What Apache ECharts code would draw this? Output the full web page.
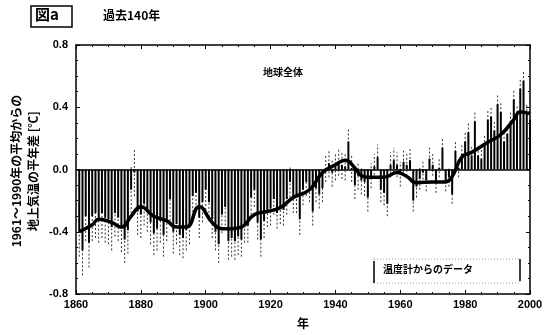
<!DOCTYPE html>
<html>
<head>
<meta charset="utf-8">
<script src="https://cdn.jsdelivr.net/npm/echarts@6/dist/echarts.min.js"></script>
<style>
  html, body { margin: 0; padding: 0; background: #fff; }
  #chart { width: 546px; height: 335px; }
</style>
</head>
<body>
<div id="chart"></div>
<script>
// 年ごとの平年差 (1861-2000)
var startYear = 1861;
var anomaly = [
  -0.40, -0.52, -0.30, -0.47, -0.30, -0.28, -0.31, -0.28, -0.31, -0.32,
  -0.37, -0.28, -0.31, -0.38, -0.45, -0.39, -0.13, -0.02, -0.27, -0.29,
  -0.22, -0.26, -0.34, -0.41, -0.38, -0.33, -0.42, -0.32, -0.19, -0.40,
  -0.35, -0.42, -0.44, -0.39, -0.35, -0.17, -0.15, -0.31, -0.21, -0.13,
  -0.21, -0.32, -0.40, -0.48, -0.29, -0.24, -0.46, -0.44, -0.46, -0.43,
  -0.45, -0.36, -0.36, -0.18, -0.13, -0.34, -0.45, -0.33, -0.26, -0.25,
  -0.19, -0.28, -0.25, -0.26, -0.19, -0.08, -0.18, -0.18, -0.32, -0.13,
  -0.08, -0.12, -0.27, -0.12, -0.16, -0.12, 0.01, 0.04, -0.02, 0.02,
  0.05, 0.03, 0.02, 0.18, 0.01, -0.10, -0.04, -0.07, -0.08, -0.18,
  -0.04, 0.02, 0.08, -0.13, -0.15, -0.22, 0.03, 0.06, 0.03, -0.03,
  0.05, 0.03, 0.06, -0.20, -0.11, -0.06, -0.02, -0.07, 0.07, 0.03,
  -0.09, 0.01, 0.14, -0.08, -0.05, -0.16, 0.12, 0.01, 0.10, 0.18,
  0.24, 0.09, 0.31, 0.09, 0.07, 0.16, 0.32, 0.34, 0.25, 0.42,
  0.37, 0.18, 0.23, 0.31, 0.45, 0.35, 0.52, 0.57, 0.36, 0.32
];

// 誤差幅 (10年ごと, 1861-2000)
var uncertainty = [0.16, 0.15, 0.14, 0.13, 0.12, 0.11, 0.10, 0.09, 0.09, 0.08, 0.07, 0.06, 0.06, 0.06];

// 平滑曲線
var smoothYears = [1861, 1865, 1867, 1871, 1874, 1877, 1880, 1884, 1888, 1891, 1894, 1898,
  1902, 1905, 1908, 1911, 1915, 1919, 1923, 1927, 1932, 1936, 1940, 1943, 1946, 1948,
  1950, 1955, 1959, 1962, 1965, 1970, 1974, 1976, 1979, 1982, 1987, 1991, 1995, 1997, 2000];
var smoothValues = [-0.40, -0.355, -0.32, -0.34, -0.37, -0.30, -0.24, -0.30, -0.33, -0.37, -0.37, -0.24,
  -0.34, -0.38, -0.38, -0.37, -0.29, -0.27, -0.245, -0.18, -0.13, -0.02, 0.03, 0.06, 0.01, -0.04,
  -0.05, -0.05, -0.02, -0.045, -0.085, -0.08, -0.08, -0.045, 0.08, 0.11, 0.175, 0.225, 0.32, 0.37, 0.36];

var yTicks = ['-0.8', '-0.4', '0.0', '0.4', '0.8'];

var font = '"Liberation Sans", Arial, sans-serif';
var jpFont = '"Noto Sans CJK JP", sans-serif';

var barData = anomaly.map(function (v, i) { return [startYear + i, v]; });
var errData = anomaly.map(function (v, i) {
  var e = uncertainty[Math.floor(i / 10)];
  return [startYear + i, v - e, v + e];
});
var lineData = smoothYears.map(function (y, i) { return [y, smoothValues[i]]; });

var chart = echarts.init(document.getElementById('chart'));
chart.setOption({
  backgroundColor: '#fff',
  animation: false,
  grid: { left: 76, right: 16, top: 45, bottom: 41 },
  xAxis: [{
    type: 'value', min: 1860, max: 2000, interval: 20,
    name: '年', nameLocation: 'middle', nameGap: 23,
    nameTextStyle: { fontFamily: jpFont, fontWeight: 'bold', fontSize: 12, color: '#000' },
    axisLine: { onZero: false, lineStyle: { color: '#000', width: 1.5 } },
    axisTick: { inside: true, length: 4, lineStyle: { color: '#000' } },
    minorTick: { show: true, splitNumber: 4, length: 2, lineStyle: { color: '#000' } },
    axisLabel: { color: '#000', fontFamily: font, fontWeight: 'bold', fontSize: 11, margin: 5,
      formatter: function (v) { return String(v); } },
    splitLine: { show: false }
  }, {
    type: 'value', min: 1860, max: 2000, interval: 20, position: 'top',
    axisLine: { onZero: false, lineStyle: { color: '#000', width: 1.5 } },
    axisTick: { inside: true, length: 4, lineStyle: { color: '#000' } },
    minorTick: { show: true, splitNumber: 4, length: 2, lineStyle: { color: '#000' } },
    axisLabel: { show: false }, splitLine: { show: false }
  }],
  yAxis: [{
    type: 'value', min: -0.8, max: 0.8, interval: 0.4,
    axisLine: { show: true, lineStyle: { color: '#000', width: 1.5 } },
    axisTick: { inside: true, length: 4, lineStyle: { color: '#000' } },
    minorTick: { show: true, splitNumber: 4, length: 2, lineStyle: { color: '#000' } },
    axisLabel: {
      color: '#000', fontFamily: font, fontWeight: 'bold', fontSize: 11, margin: 8,
      formatter: function (v) { return yTicks[Math.round((v + 0.8) / 0.4)]; }
    },
    splitLine: { show: false }
  }, {
    type: 'value', min: -0.8, max: 0.8, interval: 0.4, position: 'right',
    axisLine: { show: true, lineStyle: { color: '#000', width: 1.5 } },
    axisTick: { inside: true, length: 4, lineStyle: { color: '#000' } },
    minorTick: { show: true, splitNumber: 4, length: 2, lineStyle: { color: '#000' } },
    axisLabel: { show: false }, splitLine: { show: false }
  }],
  series: [{
    type: 'custom',
    data: errData,
    renderItem: function (params, api) {
      var x = api.coord([api.value(0), 0])[0];
      var y1 = api.coord([0, api.value(1)])[1];
      var y2 = api.coord([0, api.value(2)])[1];
      return {
        type: 'line',
        shape: { x1: x, y1: y1, x2: x, y2: y2 },
        style: { stroke: '#333', lineWidth: 1, lineDash: [2, 2] }
      };
    },
    z: 1
  }, {
    type: 'bar',
    data: barData,
    barWidth: 2,
    itemStyle: { color: '#000' },
    markLine: {
      symbol: 'none', silent: true, label: { show: false },
      lineStyle: { color: '#000', width: 1.5, type: 'solid' },
      data: [{ yAxis: 0 }]
    },
    z: 2
  }, {
    type: 'line',
    data: lineData,
    smooth: 0.5,
    symbol: 'none',
    lineStyle: { color: '#000', width: 3.5 },
    z: 5
  }],
  graphic: [
    { type: 'rect', shape: { x: 31, y: 6, width: 41, height: 21 },
      style: { fill: 'none', stroke: '#000', lineWidth: 1.5 } },
    { type: 'text', x: 35, y: 7,
      style: { text: '図a', font: 'bold 15px ' + jpFont, fill: '#000' } },
    { type: 'text', x: 103, y: 9,
      style: { text: '過去140年', font: 'bold 12px ' + jpFont, fill: '#000' } },
    { type: 'text', x: 263, y: 67,
      style: { text: '地球全体', font: 'bold 10px ' + jpFont, fill: '#000' } },
    { type: 'text', rotation: Math.PI / 2, x: 16, y: 171,
      style: { text: '1961～1990年の平均からの', font: 'bold 12px ' + jpFont, fill: '#000',
        align: 'center', verticalAlign: 'middle' } },
    { type: 'text', rotation: Math.PI / 2, x: 33, y: 171,
      style: { text: '地上気温の平年差 [℃]', font: 'bold 12px ' + jpFont, fill: '#000',
        align: 'center', verticalAlign: 'middle' } },
    { type: 'rect', shape: { x: 374, y: 259, width: 146, height: 24 },
      style: { fill: 'none', stroke: '#999', lineWidth: 1, lineDash: [1, 2] } },
    { type: 'line', shape: { x1: 374, y1: 261, x2: 374, y2: 283 },
      style: { stroke: '#000', lineWidth: 1.5 } },
    { type: 'line', shape: { x1: 520, y1: 259, x2: 520, y2: 281 },
      style: { stroke: '#000', lineWidth: 1.5 } },
    { type: 'text', x: 383, y: 264,
      style: { text: '温度計からのデータ', font: 'bold 10px ' + jpFont, fill: '#000' } }
  ]
});
</script>
</body>
</html>
